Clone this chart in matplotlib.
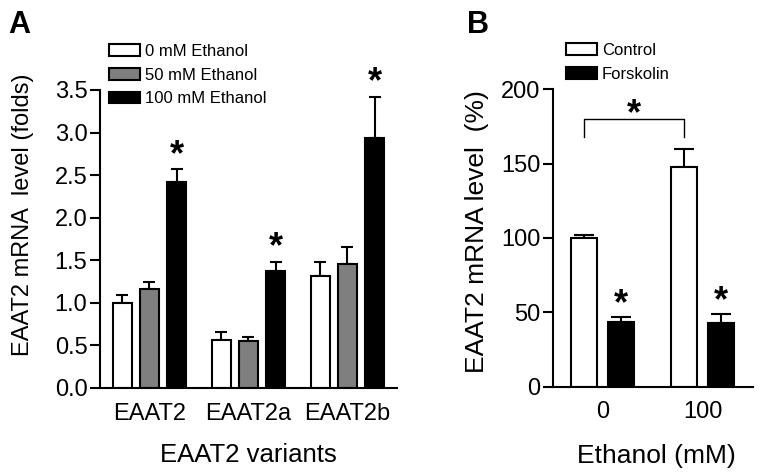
import numpy as np
import matplotlib
matplotlib.use('Agg')
from matplotlib import pyplot as plt

plt.rcParams['font.family'] = ['Liberation Sans', 'DejaVu Sans']

# panel A data
variants = ['EAAT2', 'EAAT2a', 'EAAT2b']
eth_labels = ['0 mM Ethanol', '50 mM Ethanol', '100 mM Ethanol']
eth_colors = ['white', '#7f7f7f', 'black']
a_mean = [[1.00, 0.56, 1.32],
          [1.16, 0.55, 1.46],
          [2.42, 1.37, 2.93]]
a_err = [[0.09, 0.10, 0.16],
         [0.08, 0.05, 0.20],
         [0.15, 0.11, 0.49]]
a_sig = [False, False, True]   # star on 100 mM bars
a_yticks = [0.0, 0.5, 1.0, 1.5, 2.0, 2.5, 3.0, 3.5]

# panel B data
ethanol = ['0', '100']
b_labels = ['Control', 'Forskolin']
b_colors = ['white', 'black']
b_mean = [[100.0, 147.5],
          [43.5, 43.0]]
b_err = [[2.0, 12.5],
         [3.5, 6.0]]
b_yticks = [0, 50, 100, 150, 200]

fig = plt.figure(figsize=(7.62, 4.75), dpi=100)

# ---- A ----
axA = fig.add_axes([0.1312, 0.1832, 0.3898, 0.6274])
xa = np.arange(len(variants))
w = 0.197
step = 0.273
for i in range(3):
    axA.bar(xa + (i - 1) * step, a_mean[i], w, color=eth_colors[i], edgecolor='black',
            linewidth=1.5, label=eth_labels[i], zorder=2)
    axA.errorbar(xa + (i - 1) * step, a_mean[i], yerr=[np.zeros(3), a_err[i]], fmt='none',
                 ecolor='black', elinewidth=1.5, capsize=4, capthick=1.5, zorder=1)
    if a_sig[i]:
        for j in range(3):
            axA.annotate('*', xy=(xa[j] + (i - 1) * step, a_mean[i][j] + a_err[i][j]),
                         xytext=(0, 10), textcoords='offset points', ha='center', va='center',
                         fontsize=26, fontweight='bold', annotation_clip=False)
axA.set_xlim(-0.5, 2.5)
axA.set_ylim(0, 3.5)
axA.set_yticks(a_yticks)
axA.set_yticklabels(['%.1f' % t for t in a_yticks])
axA.set_xticks(xa)
axA.set_xticklabels(variants)
axA.set_ylabel('EAAT2 mRNA  level (folds)', fontsize=17)
axA.yaxis.set_label_coords(-0.222, 0.58)
axA.set_xlabel('EAAT2 variants', fontsize=18.5)
axA.xaxis.set_label_coords(0.498, -0.184)

axA.legend(loc='upper left', bbox_to_anchor=(109 / 762, 1 - 44 / 475), bbox_transform=fig.transFigure,
           frameon=False, fontsize=12, handlelength=1.86, handleheight=0.72, handletextpad=0.3,
           labelspacing=0.52, borderpad=0, borderaxespad=0)

# ---- B ----
axB = fig.add_axes([0.7257, 0.1859, 0.2621, 0.6261])
xb = np.arange(len(ethanol))
wb = 0.26
off = 0.185
for i in range(2):
    xs = xb + (2 * i - 1) * off
    axB.bar(xs, b_mean[i], wb, color=b_colors[i], edgecolor='black', linewidth=1.5,
            label=b_labels[i], zorder=2)
    axB.errorbar(xs, b_mean[i], yerr=[np.zeros(2), b_err[i]], fmt='none', ecolor='black',
                 elinewidth=1.5, capsize=7, capthick=1.5, zorder=1)
for j in range(2):
    axB.annotate('*', xy=(xb[j] + off, b_mean[1][j] + b_err[1][j]), xytext=(0, 9),
                 textcoords='offset points', ha='center', va='center', fontsize=26,
                 fontweight='bold')
# bracket between the two control bars
bx0 = xb[0] - off
bx1 = xb[1] - off
axB.plot([bx0, bx0, bx1, bx1], [168, 180, 180, 168], color='black', linewidth=1.0)
axB.text((bx0 + bx1) / 2, 183, '*', ha='center', va='center', fontsize=26, fontweight='bold')
axB.set_xlim(-0.5, 1.5)
axB.set_ylim(0, 200)
axB.set_yticks(b_yticks)
axB.set_xticks(xb)
axB.set_xticklabels(ethanol)
axB.set_ylabel('EAAT2 mRNA level  (%)', fontsize=19)
axB.yaxis.set_label_coords(-0.32, 0.52)
axB.set_xlabel('Ethanol (mM)', fontsize=19)
axB.xaxis.set_label_coords(0.516, -0.192)

axB.legend(loc='upper left', bbox_to_anchor=(566 / 762, 1 - 43 / 475), bbox_transform=fig.transFigure,
           frameon=False, fontsize=12, handlelength=1.86, handleheight=0.72, handletextpad=0.3,
           labelspacing=0.52, borderpad=0, borderaxespad=0)

for ax in (axA, axB):
    for s in ('top', 'right'):
        ax.spines[s].set_visible(False)
    for s in ('left', 'bottom'):
        ax.spines[s].set_linewidth(1.5)
    ax.tick_params(axis='y', length=7, width=1.5, pad=2, labelsize=17)
    ax.tick_params(axis='x', length=0, pad=10.5, labelsize=17)

fig.text(8 / 762, 1 - 33 / 475, 'A', fontsize=22, fontweight='bold', va='baseline')
fig.text(467 / 762, 1 - 33 / 475, 'B', fontsize=22, fontweight='bold', va='baseline')

plt.savefig('out.png', dpi=100)
